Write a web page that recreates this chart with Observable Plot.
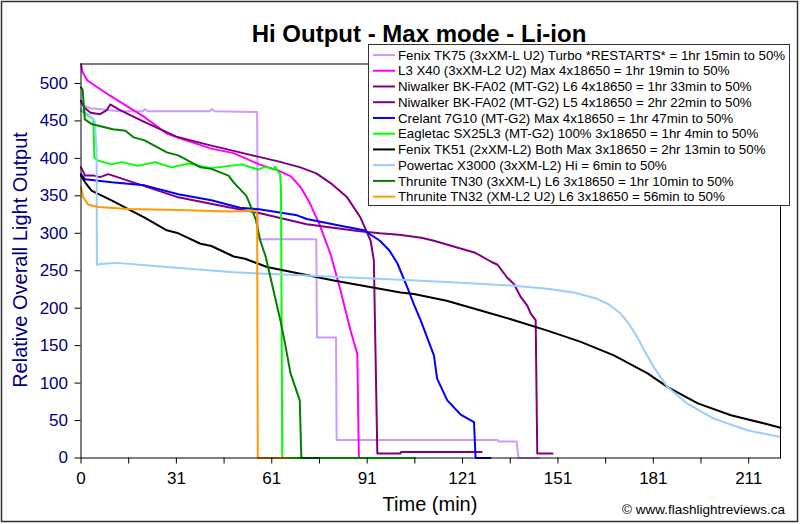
<!DOCTYPE html>
<html>
<head>
<meta charset="utf-8">
<script src="https://cdn.jsdelivr.net/npm/d3@7"></script>
<script src="https://cdn.jsdelivr.net/npm/@observablehq/plot@0.6"></script>
<style>
  html, body { margin: 0; padding: 0; background: #fff; }
  #chart { width: 800px; height: 524px; }
</style>
</head>
<body>
<div id="chart"></div>
<script>
// ---- Data (x in axis units: each labelled interval = 30 units; y = relative output) ----
const seriesNames = [
  "Fenix TK75 (3xXM-L U2) Turbo *RESTARTS* = 1hr 15min to 50%",
  "L3 X40 (3xXM-L2 U2) Max 4x18650 = 1hr 19min to 50%",
  "Niwalker BK-FA02 (MT-G2) L6 4x18650 = 1hr 33min to 50%",
  "Niwalker BK-FA02 (MT-G2) L5 4x18650 = 2hr 22min to 50%",
  "Crelant 7G10 (MT-G2) Max 4x18650 = 1hr 47min to 50%",
  "Eagletac SX25L3 (MT-G2) 100% 3x18650 = 1hr 4min to 50%",
  "Fenix TK51 (2xXM-L2) Both Max 3x18650 = 2hr 13min to 50%",
  "Powertac X3000 (3xXM-L2) Hi = 6min to 50%",
  "Thrunite TN30 (3xXM-L) L6 3x18650 = 1hr 10min to 50%",
  "Thrunite TN32 (XM-L2 U2) L6 3x18650 = 56min to 50%"
];
const seriesColors = ["#CC99FF","#FF00FF","#800080","#800080","#0000FF","#00FF00","#000000","#99CCFF","#008000","#FF9900"];

const tk75 = [[0,474],[1,470],[3,467],[8,465],[12,463],[19.5,463],[20.1,466],[21,463],[40.5,463],[41.1,466],[42,463],[55.4,462],[55.6,292],[74,292],[74.2,161],[80.2,161],[80.4,24],[131,24],[131.3,22],[137,22],[137.6,0],[144,0]];
const x40 = [[0,526],[0.5,515],[2,504],[9,484],[20,455],[27,433],[33,424],[41,413],[48,407],[56,392],[62,384],[66,376],[69,362],[72,340],[75,312],[78.5,272],[81.6,224],[84.8,170],[86.9,139],[87.4,0],[88,0]];
const bkL6 = [[0,477],[1,468],[3,461],[6,459],[8,464],[9.2,472],[12,465],[19.7,449],[30,429],[41,417],[48,410],[56,402],[62,396],[69,388],[74,380],[78.5,367],[83.7,348],[87.9,321],[91.1,290],[92.1,264],[93.2,6],[100.5,6],[100.6,8],[126,8]];
const bkL5 = [[0,388],[1.3,377],[4,377],[6,375],[8.6,379],[15,370],[30.6,348],[46,335],[56,327],[68,315],[71,312],[87,303],[94,300],[100,298],[107,294],[111,290],[121.5,277],[124,274],[129,262],[131,258],[134,241],[136.2,232],[138.3,215],[140.4,203],[141.4,193],[143,184],[143.5,6],[148.3,6]];
const crelant = [[0,379],[1.3,372],[9.6,368],[20,364],[30.6,352],[41,344],[50,334],[56,332],[68,324],[71,319],[81.6,310],[89,304],[94,290],[97,277],[99.5,260],[102.6,228],[104.7,205],[106.8,184],[111,137],[112,106],[115.2,77],[119.4,58],[123.6,48],[124.1,0],[128.8,0]];
const eagletac = [[0,464],[2.3,457],[3.9,452],[4.2,401],[5.4,397],[9.6,392],[12.8,395],[18,390],[23.3,395],[28.5,388],[33.8,393],[41,387],[50.5,392],[55.8,385],[57.9,389],[60.5,385],[61,389],[62.6,379],[62.9,360],[63.3,0],[105,0]];
const tk51 = [[0,377],[1.3,368],[3.3,357],[9.6,344],[20,321],[27,304],[30.6,300],[37.6,286],[41,283],[48,269],[51.6,266],[58.5,255],[62,252],[69,246],[79.5,237],[90,229],[100.5,221],[104.7,219],[115,210],[125.7,197],[136.2,184],[146.7,170],[157.2,155],[167.6,137],[178.2,113],[184.4,95],[194,73],[204.4,57],[215,46],[220,40.5]];
const powertac = [[0,466],[2.5,458],[4.3,450],[4.9,412],[5.0,258],[6.1,259],[11.3,260.5],[27,255],[48,248],[69,244],[79.5,242],[100.5,238],[115,235],[136,230],[146.7,226],[155,221],[162.4,212.5],[166,205],[169.8,192.5],[172.5,178],[175,161],[177.5,141],[180.2,121],[184.4,95],[190.7,72.5],[199,52.5],[209.6,37],[220,28]];
const tn30 = [[0,495],[0.5,492],[1.2,452],[3.3,446],[10,439],[14,437],[16.6,428],[20,424],[27,408],[30.6,404],[37.6,388],[41,386],[46.4,377],[48,368],[50,359],[52,350],[53.5,335],[55,318],[56.4,290],[58,270],[59.6,241],[61,215],[62.7,184],[64.3,150],[65.9,113],[68.8,77],[69.3,0],[75,0]];
const tn32 = [[0,361],[0.7,348],[2.3,338],[5.4,335],[15,332.5],[30.6,331],[46.4,329],[53.7,330],[55.4,329],[55.6,0],[65.3,0]];

const xTickValues = [0,30,60,90,120,150,180,210];
const xTickLabels = ["0","31","61","91","121","151","181","211"];
const yTicks = [0,50,100,150,200,250,300,350,400,450,500];

const allSeries = [tk75, x40, bkL6, bkL5, crelant, eagletac, tk51, powertac, tn30, tn32];

const FONT = "'Liberation Sans', Arial, Helvetica, sans-serif";

const lineMarks = allSeries.map((arr, i) =>
  Plot.line(arr, {x: d => d[0], y: d => d[1], stroke: seriesColors[i], strokeWidth: 2, curve: "linear"})
);

const xAllTicks = d3.range(0, 221, 15);

const plot = Plot.plot({
  width: 800,
  height: 524,
  marginLeft: 80.5,
  marginRight: 20,
  marginTop: 63.5,
  marginBottom: 66.5,
  style: {fontFamily: FONT, background: "white", color: "black", overflow: "visible"},
  x: {domain: [0, 220]},
  y: {domain: [0, 526]},
  marks: [
    ...lineMarks,
    Plot.frame({stroke: "black", strokeWidth: 1}),
    Plot.axisY({ticks: yTicks, tickSize: 6, tickPadding: 7, fontSize: 17, fill: "#000080", stroke: "black", label: null}),
    Plot.axisX({ticks: xAllTicks, tickSize: 6, tickPadding: 8, fontSize: 17, fill: "black", stroke: "black", label: null,
      tickFormat: d => { const k = xTickValues.indexOf(d); return k >= 0 ? xTickLabels[k] : ""; }})
  ]
});

document.getElementById("chart").appendChild(plot);

const svg = d3.select(plot);

// outer border
svg.append("rect").attr("x", 1.5).attr("y", 1.5).attr("width", 796).attr("height", 520)
  .attr("fill", "none").attr("stroke", "#333").attr("stroke-width", 1.5);

// title
svg.append("text").attr("x", 419).attr("y", 42).attr("text-anchor", "middle")
  .attr("font-family", FONT).attr("font-weight", "bold").attr("font-size", 24).attr("fill", "black")
  .text("Hi Output - Max mode - Li-ion");

// y label
svg.append("text").attr("transform", "translate(27,260) rotate(-90)").attr("text-anchor", "middle")
  .attr("font-family", FONT).attr("font-size", 20).attr("fill", "#000080")
  .text("Relative Overall Light Output");

// x label
svg.append("text").attr("x", 430).attr("y", 511).attr("text-anchor", "middle")
  .attr("font-family", FONT).attr("font-size", 20).attr("fill", "black")
  .text("Time (min)");

// copyright
svg.append("text").attr("x", 785).attr("y", 514).attr("text-anchor", "end")
  .attr("font-family", FONT).attr("font-size", 13.5).attr("fill", "black")
  .text("\u00A9 www.flashlightreviews.ca");

// legend
const lg = svg.append("g");
lg.append("rect").attr("x", 368.5).attr("y", 44.5).attr("width", 421).attr("height", 161)
  .attr("fill", "white").attr("stroke", "#333").attr("stroke-width", 1);
seriesNames.forEach((name, i) => {
  const cy = 55 + i * 15.74;
  lg.append("line").attr("x1", 373).attr("x2", 395).attr("y1", cy).attr("y2", cy)
    .attr("stroke", seriesColors[i]).attr("stroke-width", 2);
  lg.append("text").attr("x", 398).attr("y", cy + 4.7).attr("text-anchor", "start")
    .attr("font-family", FONT).attr("font-size", 13.3).attr("fill", "black").text(name);
});
</script>
</body>
</html>
